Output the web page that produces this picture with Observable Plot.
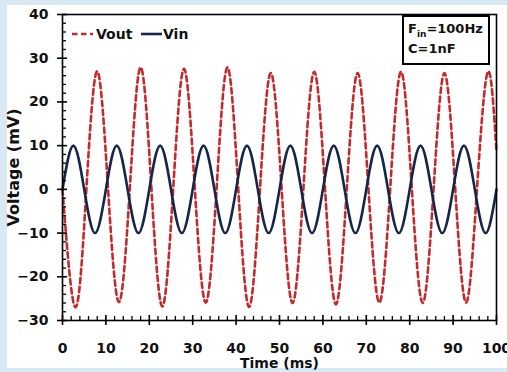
<!DOCTYPE html>
<html>
<head>
<meta charset="utf-8">
<script src="https://cdn.jsdelivr.net/npm/d3@7"></script>
<script src="https://cdn.jsdelivr.net/npm/@observablehq/plot@0.6"></script>
<style>
  body { margin:0; width:507px; height:372px; position:relative; overflow:hidden; background:#d9e9f3; font-family:"DejaVu Sans", sans-serif; }
  #panel { position:absolute; left:7px; top:5px; width:500px; height:363px; background:#fff; }
  #chart { position:absolute; left:0; top:0; }
  #legend { position:absolute; left:0; top:0; }
  #note { position:absolute; left:402px; top:15px; width:80px; height:44px; border:2px solid #000; background:#fff;
          font-weight:bold; font-size:13px; line-height:20px; padding:2px 0 0 4px; color:#111; }
  #note sub { font-size:9px; line-height:0; }
</style>
</head>
<body>
<div id="panel"></div>
<div id="chart"></div>
<svg id="legend" width="507" height="372"></svg>
<div id="note">F<sub>in</sub>=100Hz<br>C=1nF</div>
<script>
// Vin: input sine (mV) read at peaks / zero crossings
const vinTime  = [0,2.5,5,7.5,10,12.5,15,17.5,20,22.5,25,27.5,30,32.5,35,37.5,40,42.5,45,47.5,50,52.5,55,57.5,60,62.5,65,67.5,70,72.5,75,77.5,80,82.5,85,87.5,90,92.5,95,97.5,100];
const vinValue = [0,10,0,-10,0,10,0,-10,0,10,0,-10,0,10,0,-10,0,10,0,-10,0,10,0,-10,0,10,0,-10,0,10,0,-10,0,10,0,-10,0,10,0,-10,0];
// Vout: output (mV), inverted and amplified
const voutTime  = [0,3,5.5,8,10.5,13,15.5,18,20.5,23,25.5,28,30.5,33,35.5,38,40.5,43,45.5,48,50.5,53,55.5,58,60.5,63,65.5,68,70.5,73,75.5,78,80.5,83,85.5,88,90.5,93,95.5,98,100];
const voutValue = [0,-27.0,0,27.0,0,-25.8,0,27.9,0,-26.8,0,27.6,0,-25.9,0,27.9,0,-26.9,0,26.6,0,-26.0,0,26.9,0,-26.3,0,26.6,0,-25.9,0,26.9,0,-26.0,0,26.6,0,-25.9,0,26.9,8.5];
const xTicks = [0,10,20,30,40,50,60,70,80,90,100];
const yTicks = [-30,-20,-10,0,10,20,30,40];
const xMinor = [2,4,6,8,12,14,16,18,22,24,26,28,32,34,36,38,42,44,46,48,52,54,56,58,62,64,66,68,72,74,76,78,82,84,86,88,92,94,96,98];
const yMinor = [-28,-26,-24,-22,-18,-16,-14,-12,-8,-6,-4,-2,2,4,6,8,12,14,16,18,22,24,26,28,32,34,36,38];

const seriesNames = ["Vout","Vin"];
const seriesColors = ["#c42a2c","#14274a"];

const vin = vinTime.map((t,i)=>({t, v: vinValue[i]}));
const vout = voutTime.map((t,i)=>({t, v: voutValue[i]}));

const W = 507, H = 372, mL = 62, mT = 14, mR = 11, mB = 52;
const pw = W - mL - mR, ph = H - mT - mB;
const FONT = "'DejaVu Sans', sans-serif";

const plot = Plot.plot({
  width: W, height: H,
  marginLeft: mL, marginTop: mT, marginRight: mR, marginBottom: mB,
  style: { background: "transparent", fontFamily: FONT, fontSize: "14px", fontWeight: "bold", color: "#111", overflow: "visible" },
  x: { domain: [0,100] },
  y: { domain: [-30,40] },
  marks: [
    Plot.line(vout, { x: "t", y: "v", curve: "natural", stroke: seriesColors[0], strokeWidth: 2.6, strokeDasharray: "5.5,3.5" }),
    Plot.line(vin, { x: "t", y: "v", curve: "natural", stroke: seriesColors[1], strokeWidth: 2.6 }),
    Plot.frame({ stroke: "#000", strokeWidth: 1.6 }),
    Plot.tickY(yMinor, { y: d => d, insetRight: pw - 4, stroke: "#000", strokeWidth: 1.3 }),
    Plot.tickY(yTicks, { y: d => d, insetRight: pw - 10, dx: -5, stroke: "#000", strokeWidth: 1.6 }),
    Plot.tickX(xMinor, { x: d => d, insetTop: ph - 4, stroke: "#000", strokeWidth: 1.3 }),
    Plot.tickX(xTicks, { x: d => d, insetTop: ph - 10, dy: 5, stroke: "#000", strokeWidth: 1.6 }),
    Plot.axisY(yTicks, { tickSize: 0, tickPadding: 14, fontSize: 14, label: null }),
    Plot.axisX(xTicks, { tickSize: 0, tickPadding: 23, fontSize: 14, label: null }),
    Plot.axisY({ ticks: [], tickSize: 0, label: "Voltage (mV)", labelAnchor: "center", labelArrow: "none", labelOffset: 55, fontSize: 16 }),
    Plot.axisX({ ticks: [], tickSize: 0, label: "Time (ms)", labelAnchor: "center", labelArrow: "none", labelOffset: 47, fontSize: 14 })
  ]
});
document.getElementById("chart").appendChild(plot);

// legend
const lg = d3.select("#legend");
const items = [{x1:72,x2:93,tx:96},{x1:141,x2:162,tx:163}];
seriesNames.forEach((n,i)=>{
  const it = items[i];
  lg.append("line").attr("x1",it.x1).attr("x2",it.x2).attr("y1",34).attr("y2",34)
    .attr("stroke",seriesColors[i]).attr("stroke-width",2.6)
    .attr("stroke-dasharray", i===0 ? "5.5,3.5" : null);
  lg.append("text").attr("x",it.tx).attr("y",34).attr("dy","0.35em")
    .attr("font-family",FONT).attr("font-weight","bold").attr("font-size",14).attr("fill","#111")
    .text(n);
});
</script>
</body>
</html>
